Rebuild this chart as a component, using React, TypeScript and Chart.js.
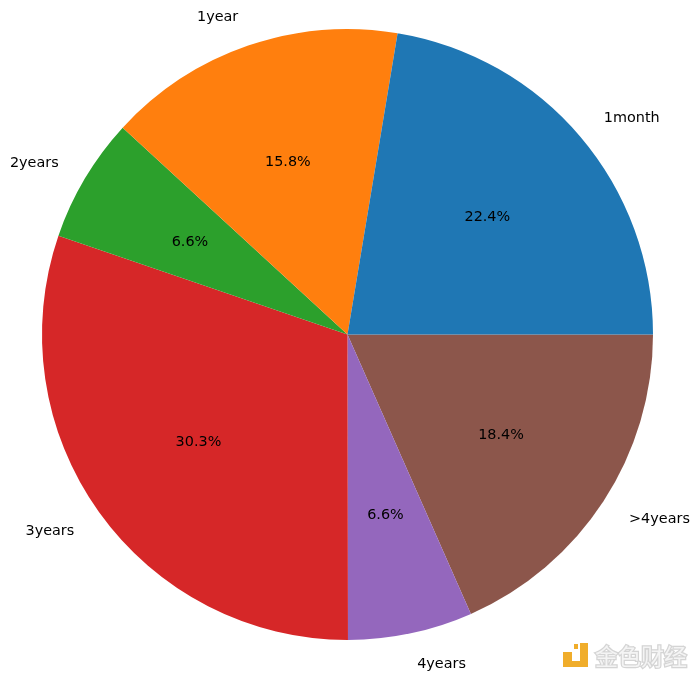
import React, { useEffect, useRef } from "react";
import { Chart, registerables } from "chart.js";

Chart.register(...registerables);

// Listed clockwise from 3 o'clock, the direction Chart.js sweeps
const categories = [">4years", "4years", "3years", "2years", "1year", "1month"];
const shares = [18.4, 6.6, 30.3, 6.6, 15.8, 22.4];
const colors = ["#8c564b", "#9467bd", "#d62728", "#2ca02c", "#ff7f0e", "#1f77b4"];

const watermarkText = "金色财经";
const FONT = '"DejaVu Sans", sans-serif';

const sliceLabels = {
  id: "sliceLabels",
  afterDatasetsDraw(chart: any) {
    const { ctx } = chart;
    const arcs = chart.getDatasetMeta(0).data;
    ctx.save();
    ctx.font = `14.4px ${FONT}`;
    ctx.fillStyle = "#000";
    ctx.textBaseline = "middle";
    arcs.forEach((arc: any, i: number) => {
      const mid = (arc.startAngle + arc.endAngle) / 2;
      const c = Math.cos(mid);
      const s = Math.sin(mid);
      ctx.textAlign = "center";
      ctx.fillText(`${shares[i].toFixed(1)}%`, arc.x + c * arc.outerRadius * 0.6, arc.y + s * arc.outerRadius * 0.6 + 1);
      ctx.textAlign = c >= 0 ? "left" : "right";
      ctx.fillText(categories[i], arc.x + c * arc.outerRadius * 1.1, arc.y + s * arc.outerRadius * 1.1 + 1);
    });
    ctx.restore();
  },
};

const watermark = {
  id: "watermark",
  afterDraw(chart: any) {
    const { ctx } = chart;
    ctx.save();
    // logo
    ctx.fillStyle = "#f0ad2b";
    ctx.fillRect(580, 643, 8, 24);
    ctx.fillRect(563, 661, 25, 6);
    ctx.fillRect(563, 652, 9, 15);
    ctx.fillRect(574, 644, 4, 5);
    // wordmark
    ctx.font = `23px "Noto Sans CJK SC", sans-serif`;
    ctx.textAlign = "left";
    ctx.textBaseline = "middle";
    ctx.lineWidth = 2.5;
    ctx.strokeStyle = "#d4d4d4";
    ctx.strokeText(watermarkText, 595, 656);
    ctx.fillStyle = "#f4f4f4";
    ctx.fillText(watermarkText, 595, 656);
    ctx.restore();
  },
};

export default function App() {
  const ref = useRef<HTMLCanvasElement>(null);
  useEffect(() => {
    const chart = new Chart(ref.current!, {
      type: "pie",
      data: {
        labels: categories,
        datasets: [{ data: shares, backgroundColor: colors, borderWidth: 0, hoverOffset: 0 }],
      },
      options: {
        animation: false,
        responsive: false,
        rotation: 90,
        layout: { padding: { left: 42, right: 47, top: 29, bottom: 41 } },
        plugins: { legend: { display: false }, tooltip: { enabled: false } },
      },
      plugins: [sliceLabels, watermark],
    });
    return () => chart.destroy();
  }, []);
  return (
    <canvas
      ref={ref}
      width={700}
      height={681}
      style={{ position: "fixed", left: 0, top: 0, width: 700, height: 681, background: "#fff" }}
    />
  );
}
